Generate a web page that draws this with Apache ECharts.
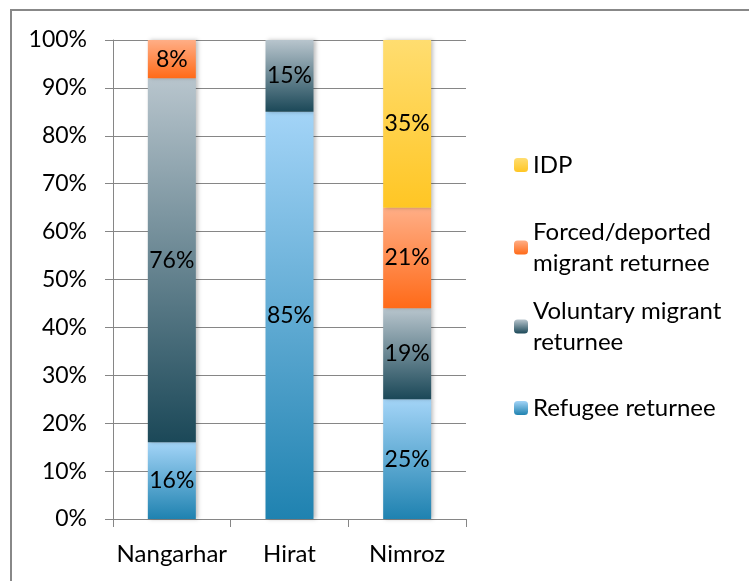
<!DOCTYPE html>
<html>
<head>
    <meta charset="utf-8" />
    <title>Returnees by province</title>
    <script src="https://cdn.jsdelivr.net/npm/echarts@6/dist/echarts.min.js"></script>
    <style>
        html, body { margin: 0; padding: 0; background: #fff; }
        #main { width: 749px; height: 581px; }
    </style>
</head>
<body>
<div id="main"></div>
<script>
    var categories = ['Nangarhar', 'Hirat', 'Nimroz'];
    var refugee = [16, 85, 25];
    var voluntary = [76, 15, 19];
    var forced = [8, 0, 21];
    var idp = [0, 0, 35];
    var yTicks = [0, 10, 20, 30, 40, 50, 60, 70, 80, 90, 100];

    var FONT = 'Lato';
    var FS = 23;

    function grad(top, bottom) {
        return new echarts.graphic.LinearGradient(0, 0, 0, 1, [
            { offset: 0, color: top },
            { offset: 1, color: bottom }
        ]);
    }

    function makeSeries(name, data, top, bottom) {
        return {
            name: name,
            type: 'bar',
            stack: 'all',
            barWidth: 48,
            data: data,
            itemStyle: {
                color: grad(top, bottom),
                shadowBlur: 4,
                shadowOffsetX: 2,
                shadowColor: 'rgba(0,0,0,0.25)'
            },
            label: {
                show: true,
                position: 'inside',
                color: '#000',
                fontFamily: FONT,
                fontSize: FS,
                formatter: function (p) { return p.value ? p.value + '%' : ''; }
            }
        };
    }

    function legendItem(name, text, top, lines) {
        return {
            orient: 'vertical',
            left: 509,
            top: top,
            data: [name],
            itemWidth: 14,
            itemHeight: 14,
            selectedMode: false,
            formatter: function () { return text; },
            textStyle: {
                fontFamily: FONT,
                fontSize: 24,
                color: '#000',
                lineHeight: 31,
                padding: [lines > 1 ? 31 : 0, 0, 0, 0]
            }
        };
    }

    var chart = echarts.init(document.getElementById('main'));
    chart.setOption({
        animation: false,
        backgroundColor: '#fff',
        graphic: [{
            type: 'rect',
            shape: { x: 11, y: 10, width: 800, height: 700 },
            style: { fill: 'none', stroke: '#888', lineWidth: 2 },
            silent: true
        }],
        grid: { left: 113, top: 40, width: 353, height: 479 },
        legend: [
            legendItem('IDP', 'IDP', 144.5, 1),
            legendItem('Forced/deported migrant returnee', 'Forced/deported\nmigrant returnee', 196, 2),
            legendItem('Voluntary migrant returnee', 'Voluntary migrant\nreturnee', 275, 2),
            legendItem('Refugee returnee', 'Refugee returnee', 387.5, 1)
        ],
        xAxis: {
            type: 'category',
            data: categories,
            axisLine: { lineStyle: { color: '#868686', width: 1 } },
            axisTick: { show: true, length: 8, lineStyle: { color: '#868686' } },
            axisLabel: { color: '#000', fontFamily: FONT, fontSize: 24, margin: 23, interval: 0 }
        },
        yAxis: {
            type: 'value',
            min: yTicks[0],
            max: yTicks[yTicks.length - 1],
            interval: 10,
            axisLine: { show: true, lineStyle: { color: '#868686', width: 1 } },
            axisTick: { show: true, length: 8, lineStyle: { color: '#868686' } },
            splitLine: { lineStyle: { color: '#868686', width: 1 } },
            axisLabel: {
                color: '#000', fontFamily: FONT, fontSize: FS, margin: 26,
                formatter: '{value}%'
            }
        },
        series: [
            makeSeries('Refugee returnee', refugee, '#a3d4f7', '#1f82b0'),
            makeSeries('Voluntary migrant returnee', voluntary, '#b8c5cd', '#1b4858'),
            makeSeries('Forced/deported migrant returnee', forced, '#ffae86', '#ff6a18'),
            makeSeries('IDP', idp, '#ffdd70', '#ffc624')
        ]
    });
</script>
</body>
</html>
